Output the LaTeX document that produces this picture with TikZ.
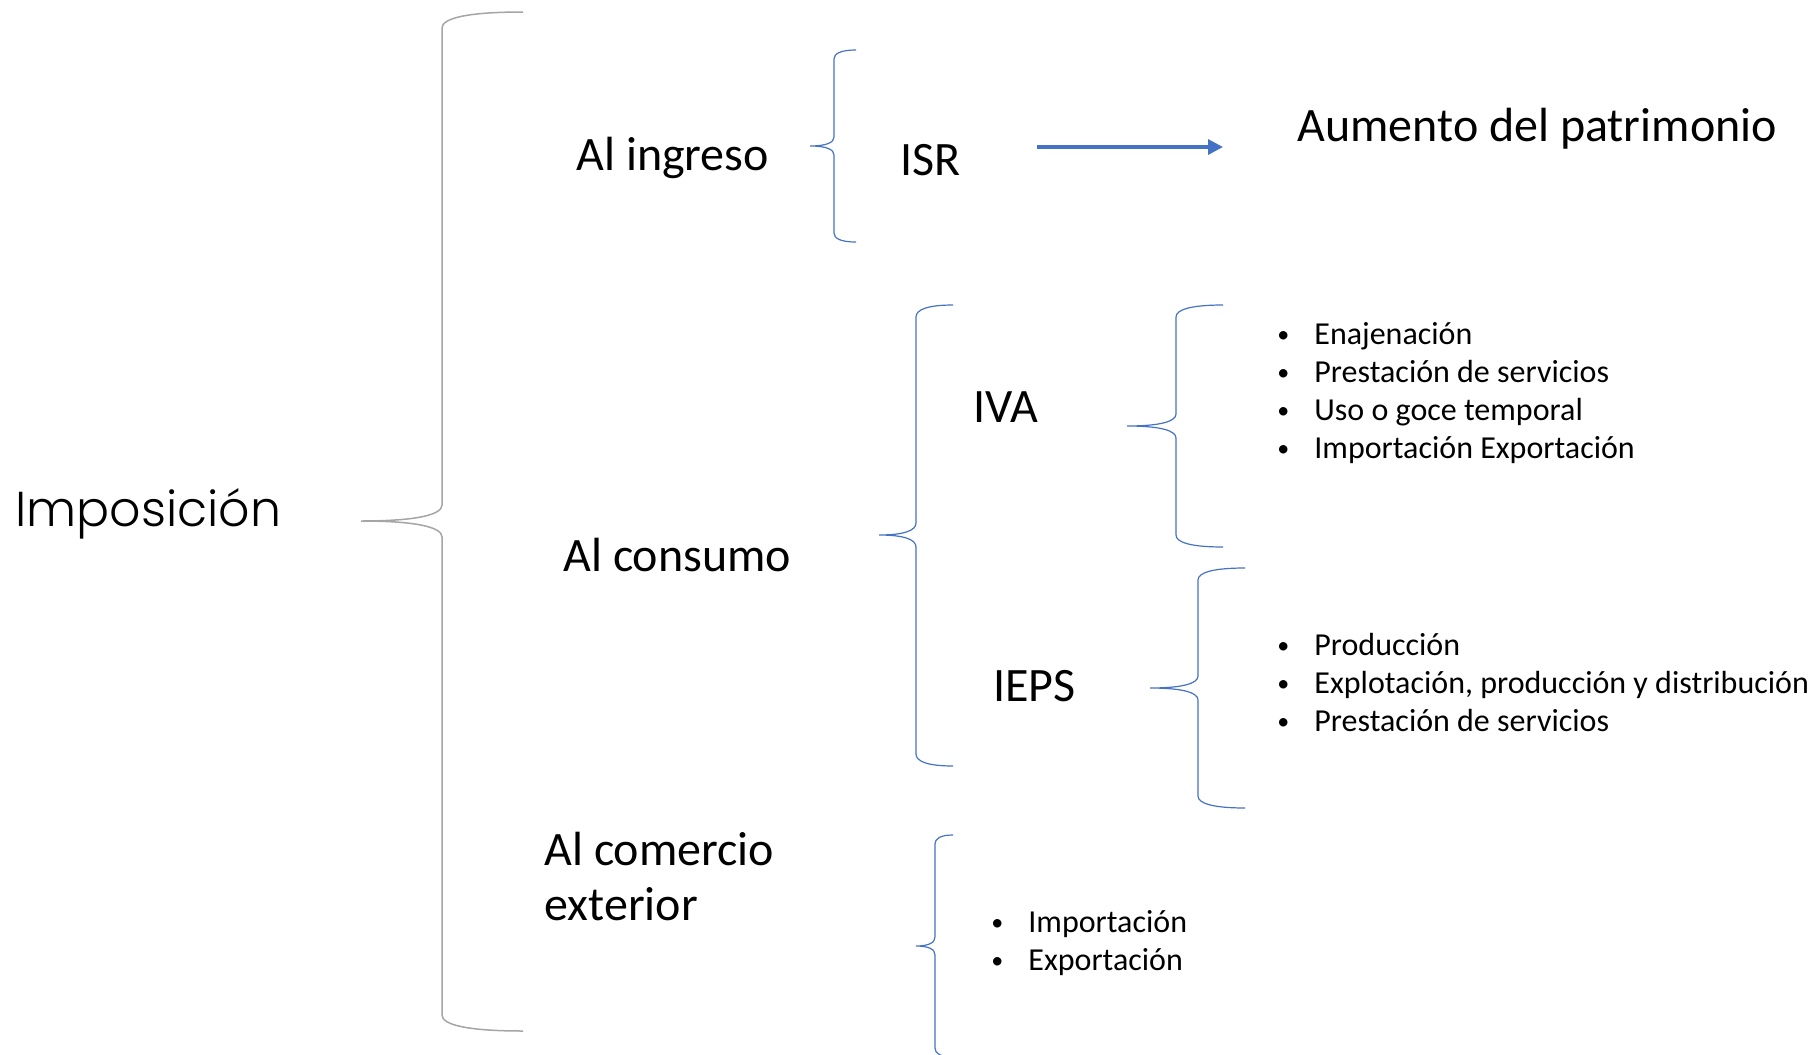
\documentclass[tikz,border=0pt]{standalone}
\usepackage{fontspec}
\setmainfont{Carlito}
\IfFontExistsTF{Poppins Light}{\newfontfamily\impfont{Poppins Light}}{\newfontfamily\impfont{Poppins}}
\usepackage{tikz}
\usetikzlibrary{arrows.meta,positioning}
\definecolor{brblue}{HTML}{4472C4}
\definecolor{brgray}{HTML}{A5A5A5}
\tikzstyle{big}=[inner sep=0pt, anchor=base west, font=\fontsize{24}{27.5}\selectfont]
\tikzstyle{item}=[inner sep=0pt, anchor=base west, font=\fontsize{16}{19}\selectfont]
\tikzstyle{bbr}=[brblue, line width=0.6pt]
\tikzstyle{gbr}=[brgray, line width=0.75pt]
\newcommand\bul{\makebox[18.5pt][l]{\raisebox{0.9pt}{\fontsize{12}{12}\selectfont\textbullet}}}
% left brace: style, tip x, line x, end x, top y, tip y, bottom y, curl
\newcommand\brc[8]{\draw[#1] (#4,#5) .. controls ({#3+0.3*(#4-#3)},#5) and (#3,{#5+0.4*#8}) .. (#3,{#5+#8})
  -- (#3,{#6-#8}) .. controls (#3,{#6-0.4*#8}) and ({#3-0.3*(#3-#2)},#6) .. (#2,#6)
  .. controls ({#3-0.3*(#3-#2)},#6) and (#3,{#6+0.4*#8}) .. (#3,{#6+#8})
  -- (#3,{#7-#8}) .. controls (#3,{#7-0.4*#8}) and ({#3+0.3*(#4-#3)},#7) .. (#4,#7);}

\begin{document}
\begin{tikzpicture}[x=0.5pt, y=-0.5pt]
\useasboundingbox (0,0) rectangle (1816,1055);
\node[inner sep=0pt, anchor=base west, font=\impfont\fontsize{24.5}{29}\selectfont] (imp) at (15,526) {Imposición};
\node[big] (ing) at (576,170) {Al ingreso};
\node[big] (isr) at (900,175) {ISR};
\node[big] (aum) at (1297,141) {Aumento del patrimonio};
\node[big] (con) at (563,571) {Al consumo};
\node[big] (iva) at (973,422) {IVA};
\node[big] (ieps) at (993,701) {IEPS};
\node[big, align=left] (com) at (544,920) {Al comercio\\exterior};
% IVA
\node[item] (iva1) at (1277,344) {\bul Enajenación};
\node[item] (iva2) at ([yshift=-19pt]iva1.base west) {\bul Prestación de servicios};
\node[item] (iva3) at ([yshift=-19pt]iva2.base west) {\bul Uso o goce temporal};
\node[item] (iva4) at ([yshift=-19pt]iva3.base west) {\bul Importación Exportación};
% IEPS
\node[item] (ieps1) at (1277,655) {\bul Producción};
\node[item] (ieps2) at ([yshift=-19pt]ieps1.base west) {\bul Explotación, producción y distribución};
\node[item] (ieps3) at ([yshift=-19pt]ieps2.base west) {\bul Prestación de servicios};
% comercio exterior
\node[item] (com1) at (991,932) {\bul Importación};
\node[item] (com2) at ([yshift=-19pt]com1.base west) {\bul Exportación};
% braces
\brc{gbr}{361}{442}{523}{12}{521}{1031}{16}
\brc{bbr}{810}{834}{856}{50}{146}{242}{9}
\brc{bbr}{879}{916}{953}{305}{535}{766}{12}
\brc{bbr}{1127}{1176}{1223}{305}{426}{547}{12}
\brc{bbr}{1150}{1198}{1245}{568}{688}{808}{12}
\brc{bbr}{916}{935}{953}{835}{946}{1057}{9}
\coordinate (a1) at (1037,147);
\coordinate (a2) at (1223,147);
\draw[brblue, line width=1.6pt, -{Triangle[length=7.5pt,width=7.5pt]}] (a1) -- (a2);
\end{tikzpicture}
\end{document}
